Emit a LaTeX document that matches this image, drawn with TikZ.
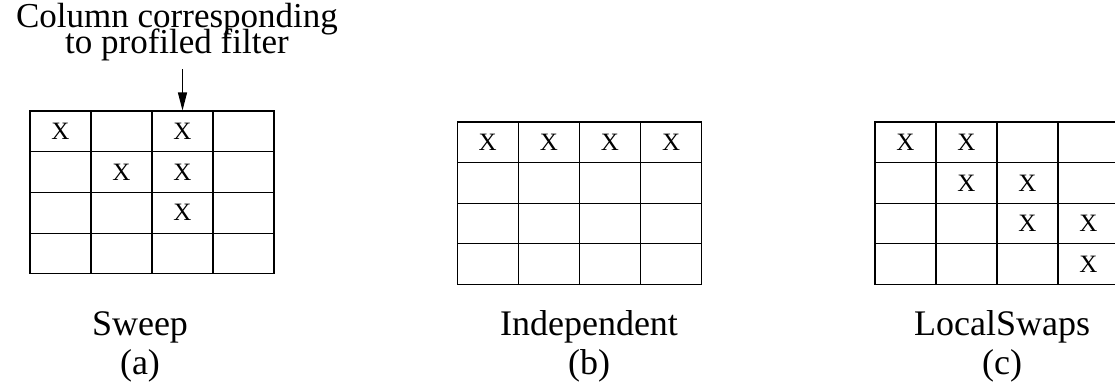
\documentclass[tikz,border=0pt]{standalone}
\usepackage{fontspec}
\setmainfont{Liberation Serif}
\usetikzlibrary{arrows.meta,positioning}

\begin{document}
\begin{tikzpicture}[x=1pt, y=-1pt, line width=1.1pt,
  cell/.style={draw, minimum width=61pt, minimum height=40.6pt, inner sep=0pt},
  xmark/.style={inner sep=0pt, font=\fontsize{25}{25}\selectfont},
  caption/.style={align=center, anchor=base, font=\fontsize{36}{38.5}\selectfont},
  >={Triangle[length=18pt, width=9pt]}]
\useasboundingbox (0,0) rectangle (1115,385);
\clip (0,0) rectangle (1115,385);
% the three 4x4 grids
\foreach \r in {1,...,4} \foreach \c in {1,...,4} {
  \node[cell] (a-\r-\c) at ({30+61*(\c-0.5)}, {111+40.7*(\r-0.5)}) {};
  \node[cell] (b-\r-\c) at ({457+61.2*(\c-0.5)}, {122+40.6*(\r-0.5)}) {};
  \node[cell] (c-\r-\c) at ({875+61*(\c-0.5)}, {122+40.6*(\r-0.5)}) {};
}
\foreach \r/\c in {1/1,1/3,2/2,2/3,3/3} \node[xmark] (ax-\r-\c) at (a-\r-\c) {X};
\foreach \c in {1,...,4} \node[xmark] (bx-1-\c) at (b-1-\c) {X};
\foreach \r/\c in {1/1,1/2,2/2,2/3,3/3,3/4,4/4} \node[xmark] (cx-\r-\c) at (c-\r-\c) {X};
% note and arrow
\node[caption, font=\fontsize{35}{40}\selectfont] (colnote) at (177,54) {Column corresponding\\[-14pt]to profiled filter};
\coordinate[above=41pt of a-1-3.north] (colhead);
\draw[->] (colhead) -- (a-1-3.north);
% captions
\node[caption] (sweep) at (140,374) {Sweep\\(a)};
\node[caption] (indep) at (589,374) {Independent\\(b)};
\node[caption] (swaps) at (1002,374) {LocalSwaps\\(c)};
\end{tikzpicture}
\end{document}
